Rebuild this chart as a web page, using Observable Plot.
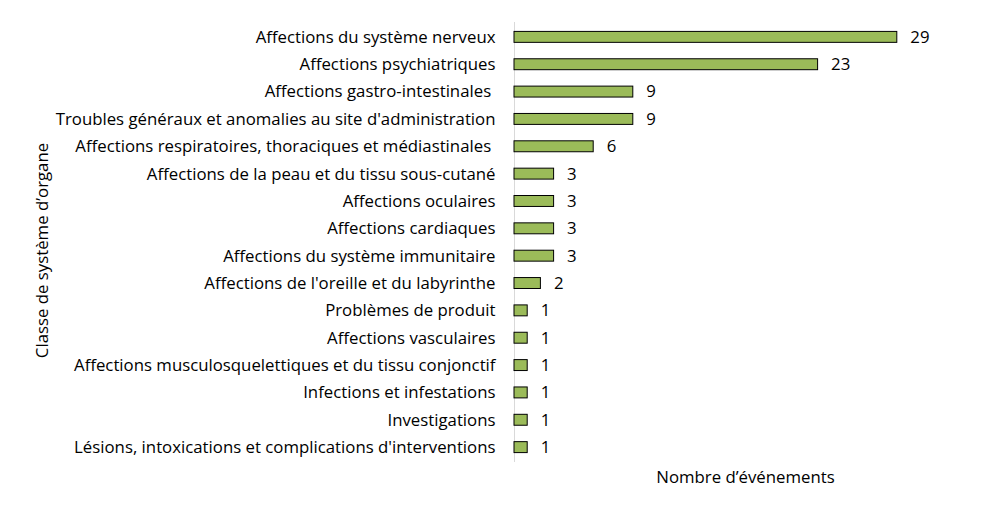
<!DOCTYPE html>
<html><head><meta charset="utf-8">
<script src="https://cdn.jsdelivr.net/npm/d3@7"></script>
<script src="https://cdn.jsdelivr.net/npm/@observablehq/plot@0.6"></script>
<style>body{margin:0;background:#fff;font-family:"Open Sans",sans-serif}</style>
</head><body><div id="chart"></div>
<script>
const categories = [
  "Affections du système nerveux",
  "Affections psychiatriques",
  "Affections gastro-intestinales ",
  "Troubles généraux et anomalies au site d'administration",
  "Affections respiratoires, thoraciques et médiastinales ",
  "Affections de la peau et du tissu sous-cutané",
  "Affections oculaires",
  "Affections cardiaques",
  "Affections du système immunitaire",
  "Affections de l'oreille et du labyrinthe",
  "Problèmes de produit",
  "Affections vasculaires",
  "Affections musculosquelettiques et du tissu conjonctif",
  "Infections et infestations",
  "Investigations",
  "Lésions, intoxications et complications d'interventions"
];
const values = [29, 23, 9, 9, 6, 3, 3, 3, 3, 2, 1, 1, 1, 1, 1, 1];
const xTitle = "Nombre d’événements";
const yTitle = "Classe de système d’organe";

const data = categories.map((c, i) => ({cat: c, n: values[i]}));
const FONT = "'Open Sans', sans-serif";
const FS = 16.8;

const chart = Plot.plot({
  width: 1000, height: 515,
  marginLeft: 514, marginRight: 24, marginTop: 15, marginBottom: 46,
  style: {fontFamily: FONT, fontSize: FS + "px", color: "#000", background: "#fff"},
  x: {domain: [0, 35], axis: null},
  y: {domain: categories, padding: 0.6, round: false, axis: null},
  marks: [
    Plot.ruleX([0], {stroke: "#d9d9d9", strokeWidth: 1, insetTop: 7, insetBottom: 7}),
    Plot.barX(data, {y: "cat", x: "n", fill: "#9bbb59", stroke: "#000", strokeWidth: 1}),
    Plot.axisY({tickSize: 0, tickPadding: 19, fontSize: FS, fill: "#000", label: null}),
    Plot.text(data, {y: "cat", x: "n", text: d => String(d.n), dx: 13, textAnchor: "start", fontSize: FS, fill: "#000"}),
    Plot.text([xTitle], {frameAnchor: "bottom", text: d => d, dy: 13, fontSize: FS, fill: "#000"}),
    Plot.text([yTitle], {frameAnchor: "left", textAnchor: "middle", text: d => d, dx: -472, dy: 8, rotate: -90, fontSize: FS, fill: "#000"})
  ]
});
document.getElementById("chart").appendChild(chart);
</script></body></html>
